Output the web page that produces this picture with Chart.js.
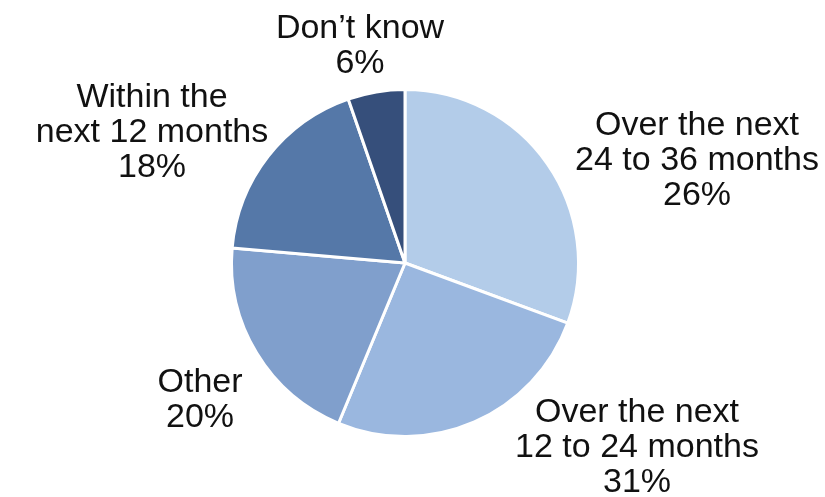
<!DOCTYPE html>
<html>
<head>
<meta charset="utf-8">
<script src="https://cdn.jsdelivr.net/npm/chart.js@4/dist/chart.umd.min.js"></script>
<style>
  html, body { margin: 0; padding: 0; background: #fff; }
  #wrap { width: 825px; height: 497px; }
</style>
</head>
<body>
<div id="wrap"><canvas id="timingPie"></canvas></div>
<script>
// slices clockwise from 12 o'clock
const categories = [
  ["Over the next", "24 to 36 months"],
  ["Over the next", "12 to 24 months"],
  ["Other"],
  ["Within the", "next 12 months"],
  ["Don\u2019t know"],
];
// slice sizes
const shares = [30.6, 25.6, 20.1, 18.3, 5.3];
// percentages as printed on the labels
const printedPct = ["26%", "31%", "20%", "18%", "6%"];
const sliceColors = ['#b3cce9', '#9ab7df', '#809fcc', '#5578a8', '#364f7b'];

// label anchor (centre x, first baseline) as offset from pie centre, in px
const labelOffsets = [
  [292, -128],
  [232, 159],
  [-205, 129],
  [-253, -156],
  [-45, -225],
];

const outsideLabels = {
  id: 'outsideLabels',
  afterDatasetsDraw(chart) {
    const ctx = chart.ctx;
    const arcs = chart.getDatasetMeta(0).data;
    ctx.save();
    ctx.font = '34px "Liberation Sans", Arial, sans-serif';
    ctx.fillStyle = '#111111';
    ctx.textAlign = 'center';
    ctx.textBaseline = 'alphabetic';
    arcs.forEach((arc, i) => {
      const lines = categories[i].concat([printedPct[i]]);
      const x = arc.x + labelOffsets[i][0];
      let y = arc.y + labelOffsets[i][1];
      lines.forEach((ln) => {
        ctx.fillText(ln, x, y);
        y += 35;
      });
    });
    ctx.restore();
  }
};

new Chart(document.getElementById('timingPie'), {
  type: 'pie',
  data: {
    labels: categories.map((c) => c.join(' ')),
    datasets: [{
      data: shares,
      backgroundColor: sliceColors,
      borderColor: '#ffffff',
      borderWidth: 3,
    }],
  },
  options: {
    responsive: true,
    maintainAspectRatio: false,
    animation: false,
    layout: { padding: { top: 88, bottom: 59, left: 0, right: 15 } },
    plugins: {
      legend: { display: false },
      tooltip: { enabled: false },
    },
  },
  plugins: [outsideLabels],
});
</script>
</body>
</html>
